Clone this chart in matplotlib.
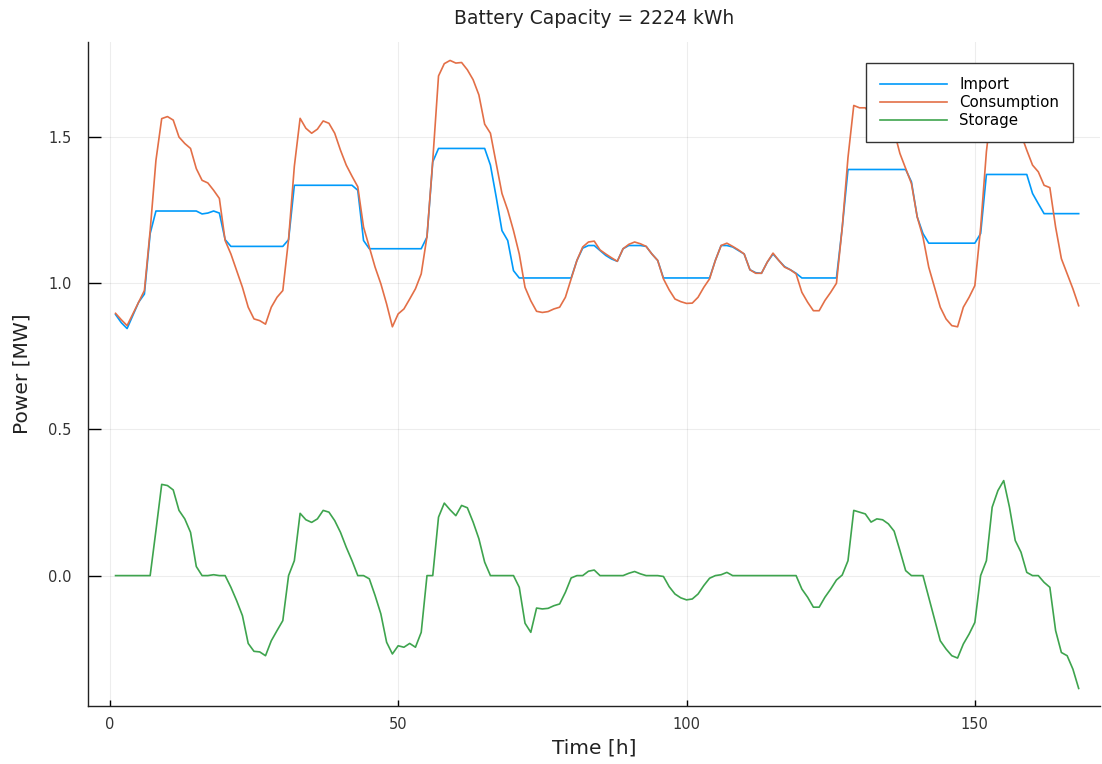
#!/usr/bin/env python3

import numpy as np
import matplotlib
matplotlib.use('Agg')
import matplotlib.pyplot as plt

# hourly values over one week [MW]
hours = np.arange(1, 169)

consumption = [
    0.897, 0.875, 0.855, 0.895, 0.935, 0.975, 1.180, 1.420, 1.563, 1.570,
    1.558, 1.500, 1.478, 1.461, 1.392, 1.352, 1.343, 1.318, 1.290, 1.146,
    1.100, 1.043, 0.986, 0.918, 0.878, 0.872, 0.860, 0.918, 0.952, 0.975,
    1.150, 1.400, 1.564, 1.530, 1.513, 1.527, 1.555, 1.547, 1.513, 1.455,
    1.404, 1.366, 1.330, 1.192, 1.124, 1.055, 0.998, 0.929, 0.851, 0.895,
    0.912, 0.946, 0.981, 1.032, 1.160, 1.420, 1.709, 1.751, 1.762, 1.753,
    1.755, 1.730, 1.696, 1.644, 1.544, 1.513, 1.410, 1.307, 1.250, 1.180,
    1.100, 0.986, 0.940, 0.904, 0.900, 0.903, 0.912, 0.918, 0.952, 1.015,
    1.078, 1.124, 1.141, 1.144, 1.114, 1.100, 1.087, 1.075, 1.118, 1.133,
    1.141, 1.135, 1.126, 1.100, 1.078, 1.015, 0.977, 0.946, 0.937, 0.931,
    0.932, 0.952, 0.986, 1.015, 1.078, 1.129, 1.137, 1.126, 1.114, 1.100,
    1.046, 1.034, 1.034, 1.072, 1.103, 1.078, 1.055, 1.046, 1.032, 0.969,
    0.935, 0.906, 0.906, 0.941, 0.969, 1.000, 1.190, 1.430, 1.608, 1.600,
    1.600, 1.575, 1.580, 1.575, 1.555, 1.520, 1.444, 1.392, 1.341, 1.227,
    1.158, 1.055, 0.986, 0.918, 0.878, 0.855, 0.851, 0.918, 0.952, 0.992,
    1.190, 1.450, 1.620, 1.680, 1.720, 1.650, 1.550, 1.510, 1.455, 1.404,
    1.381, 1.335, 1.327, 1.192, 1.084, 1.032, 0.981, 0.923,
]

grid_import = [
    0.893, 0.865, 0.845, 0.890, 0.935, 0.963, 1.170, 1.247, 1.247, 1.247,
    1.247, 1.247, 1.247, 1.247, 1.247, 1.237, 1.240, 1.247, 1.240, 1.149,
    1.126, 1.126, 1.126, 1.126, 1.126, 1.126, 1.126, 1.126, 1.126, 1.126,
    1.149, 1.335, 1.335, 1.335, 1.335, 1.335, 1.335, 1.335, 1.335, 1.335,
    1.335, 1.335, 1.318, 1.146, 1.118, 1.118, 1.118, 1.118, 1.118, 1.118,
    1.118, 1.118, 1.118, 1.118, 1.158, 1.415, 1.461, 1.461, 1.461, 1.461,
    1.461, 1.461, 1.461, 1.461, 1.461, 1.404, 1.295, 1.180, 1.146, 1.043,
    1.018, 1.018, 1.018, 1.018, 1.018, 1.018, 1.018, 1.018, 1.018, 1.018,
    1.078, 1.120, 1.129, 1.129, 1.112, 1.095, 1.083, 1.075, 1.118, 1.129,
    1.129, 1.129, 1.126, 1.100, 1.078, 1.018, 1.018, 1.018, 1.018, 1.018,
    1.018, 1.018, 1.018, 1.018, 1.078, 1.129, 1.129, 1.124, 1.112, 1.100,
    1.046, 1.036, 1.034, 1.072, 1.100, 1.078, 1.057, 1.046, 1.034, 1.018,
    1.018, 1.018, 1.018, 1.018, 1.018, 1.018, 1.190, 1.389, 1.389, 1.389,
    1.389, 1.389, 1.389, 1.389, 1.389, 1.389, 1.389, 1.389, 1.347, 1.227,
    1.170, 1.137, 1.137, 1.137, 1.137, 1.137, 1.137, 1.137, 1.137, 1.137,
    1.170, 1.372, 1.372, 1.372, 1.372, 1.372, 1.372, 1.372, 1.372, 1.307,
    1.272, 1.238, 1.238, 1.238, 1.238, 1.238, 1.238, 1.238,
]

storage = [
    0.000, 0.000, 0.000, 0.000, 0.000, 0.000, 0.000, 0.154, 0.312, 0.308,
    0.293, 0.223, 0.194, 0.148, 0.031, 0.000, 0.000, 0.003, 0.000, 0.000,
    -0.040, -0.086, -0.137, -0.232, -0.259, -0.261, -0.274, -0.223, -0.188, -0.154,
    0.000, 0.051, 0.213, 0.191, 0.182, 0.194, 0.223, 0.217, 0.188, 0.148,
    0.097, 0.051, 0.000, 0.000, -0.011, -0.068, -0.131, -0.228, -0.268, -0.240,
    -0.245, -0.232, -0.245, -0.194, 0.000, 0.000, 0.200, 0.248, 0.225, 0.205,
    0.240, 0.232, 0.183, 0.126, 0.046, 0.000, 0.000, 0.000, 0.000, 0.000,
    -0.040, -0.163, -0.194, -0.111, -0.114, -0.112, -0.103, -0.097, -0.057, -0.008,
    0.000, 0.000, 0.015, 0.019, 0.000, 0.000, 0.000, 0.000, 0.000, 0.008,
    0.014, 0.006, 0.000, 0.000, 0.000, -0.003, -0.038, -0.063, -0.076, -0.083,
    -0.080, -0.063, -0.034, -0.009, 0.000, 0.003, 0.011, 0.000, 0.000, 0.000,
    0.000, 0.000, 0.000, 0.000, 0.000, 0.000, 0.000, 0.000, 0.000, -0.046,
    -0.074, -0.108, -0.108, -0.074, -0.046, -0.015, 0.002, 0.051, 0.223, 0.217,
    0.211, 0.183, 0.194, 0.191, 0.177, 0.152, 0.086, 0.017, 0.000, 0.000,
    0.000, -0.074, -0.148, -0.223, -0.251, -0.274, -0.282, -0.234, -0.200, -0.160,
    0.000, 0.051, 0.234, 0.291, 0.325, 0.234, 0.120, 0.080, 0.011, 0.000,
    0.000, -0.023, -0.040, -0.188, -0.263, -0.274, -0.320, -0.386,
]

series_names = ["Import", "Consumption", "Storage"]
battery_capacity = 2224  # kWh

#------------------------------------------------------------
fig = plt.figure(figsize=(11.02, 7.64), dpi=100)
ax = fig.add_axes([0.0799, 0.0763, 0.9183, 0.8687])

colors = ['#009afa', '#e36f47', '#3ea44e']
for y, name, c in zip([grid_import, consumption, storage], series_names, colors):
    ax.plot(hours, y, color=c, linewidth=1.2, label=name)

ax.set_xlim(-3.77, 171.7)
ax.set_ylim(-0.445, 1.825)
ax.set_xticks([0, 50, 100, 150])
ax.set_yticks([0.0, 0.5, 1.0, 1.5])
ax.set_yticklabels(["0.0", "0.5", "1.0", "1.5"])
ax.grid(True, color='black', alpha=0.07, linewidth=0.8)

for side in ['top', 'right']:
    ax.spines[side].set_visible(False)
for side in ['left', 'bottom']:
    ax.spines[side].set_linewidth(1.0)
    ax.spines[side].set_color('#222222')

ax.tick_params(axis='y', direction='in', length=9, width=1.0, labelsize=10.5,
               labelcolor='#333333', pad=12)
ax.tick_params(axis='x', direction='in', length=4.5, width=1.0, labelsize=10.5,
               labelcolor='#333333', pad=8)

ax.set_xlabel("Time [h]", fontsize=14.5, color='#222222', labelpad=5)
ax.set_ylabel("Power [MW]", fontsize=14.5, color='#222222', labelpad=12)
ax.set_title("Battery Capacity = %d kWh" % battery_capacity, fontsize=13.5,
             color='#222222', pad=13)

leg = ax.legend(loc='upper right', bbox_to_anchor=(0.973, 0.968), borderaxespad=0,
                fontsize=10.8, fancybox=False, framealpha=1.0, edgecolor='#333333',
                handlelength=4.5, handletextpad=0.8, borderpad=0.9,
                labelspacing=0.22)
leg.get_frame().set_linewidth(1.0)

plt.savefig("out.png", dpi=100)
